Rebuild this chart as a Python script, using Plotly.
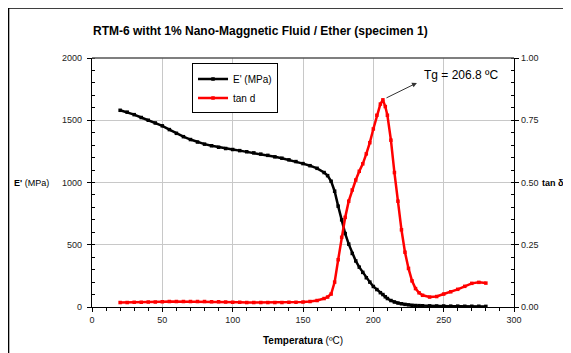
import plotly.graph_objects as go

# ---- data ----
temperature = [20, 25, 30, 35, 40, 45, 50, 55, 60, 65, 70, 75, 80, 85, 90, 95, 100,
               105, 110, 115, 120, 125, 130, 135, 140, 145, 150, 155, 160, 165, 167.5,
               170, 172.5, 175, 177.5, 180, 182.5, 185, 187.5, 190, 192.5, 195, 197.5,
               200, 202.5, 205, 206.8, 208.5, 210, 212.5, 215, 217.5, 220, 222.5, 225,
               227.5, 230, 232.5, 235, 240, 245, 250, 255, 260, 265, 270, 275, 280]

storage_modulus = [1580, 1565, 1545, 1522, 1500, 1478, 1455, 1425, 1395, 1368, 1345,
                   1325, 1308, 1295, 1283, 1273, 1265, 1256, 1247, 1238, 1228, 1218,
                   1206, 1195, 1182, 1168, 1152, 1135, 1114, 1080, 1055,
                   1010, 930, 810, 700, 590, 505, 430, 370, 320, 278, 235, 200,
                   165, 140, 115, 100, 82, 68, 52, 40, 32, 26, 21, 17,
                   14, 12, 11, 10, 9, 8, 8, 7, 7, 6, 6, 6, 5]

tan_delta = [0.018, 0.018, 0.019, 0.019, 0.020, 0.020, 0.021, 0.022, 0.022, 0.022,
             0.022, 0.022, 0.022, 0.021, 0.021, 0.020, 0.019, 0.019, 0.018, 0.018,
             0.018, 0.018, 0.018, 0.018, 0.019, 0.019, 0.020, 0.022, 0.026, 0.034,
             0.040, 0.052, 0.10, 0.19, 0.28, 0.36, 0.425, 0.47, 0.51, 0.545, 0.575,
             0.615, 0.66, 0.715, 0.77, 0.815, 0.832, 0.805, 0.77, 0.67, 0.54, 0.425,
             0.31, 0.22, 0.155, 0.105, 0.074, 0.057, 0.047, 0.040, 0.042, 0.052,
             0.061, 0.071, 0.083, 0.095, 0.099, 0.096]

x_ticks = [0, 50, 100, 150, 200, 250, 300]
y_ticks = [0, 500, 1000, 1500, 2000]
y2_ticks = [0, 0.25, 0.50, 0.75, 1.00]

title_text = "<b>RTM-6 witht 1% Nano-Maggnetic Fluid / Ether (specimen 1)</b>"
tg_text = "Tg = 206.8 ºC"
tg_value = 206.8
tg_peak = 0.832

FONT = "Liberation Sans, Arial, sans-serif"

fig = go.Figure()
fig.add_trace(go.Scatter(
    x=temperature, y=storage_modulus, name="E' (MPa)", mode="lines+markers",
    line=dict(color="black", width=2.5),
    marker=dict(symbol="square", size=3.5, color="black"),
))
fig.add_trace(go.Scatter(
    x=temperature, y=tan_delta, name="tan d", mode="lines+markers", yaxis="y2",
    line=dict(color="#ff0000", width=2.5),
    marker=dict(symbol="square", size=3.5, color="#ff0000"),
))

axis_common = dict(showline=True, linecolor="black", linewidth=1.3, ticks="outside",
                   ticklen=4, tickwidth=1.3, tickcolor="black", zeroline=False,
                   tickfont=dict(family=FONT, size=9, color="#222"))

fig.update_layout(
    width=563, height=345,
    margin=dict(l=84, r=57, t=50, b=46),
    paper_bgcolor="white", plot_bgcolor="white",
    font=dict(family=FONT, size=10, color="black"),
    showlegend=True,
    legend=dict(x=0.237, y=0.978, xanchor="left", yanchor="top",
                bordercolor="black", borderwidth=1, bgcolor="white",
                font=dict(family=FONT, size=10), itemwidth=30),
    xaxis=dict(range=[0, 300], tickvals=x_ticks, showgrid=True,
               gridcolor="#c8c8c8", gridwidth=1,
               minor=dict(dtick=10, ticks="outside", ticklen=3, tickcolor="black",
                          showgrid=False),
               **axis_common),
    yaxis=dict(range=[0, 2000], tickvals=y_ticks, showgrid=True,
               gridcolor="#c8c8c8", gridwidth=1, ticklabelstandoff=3,
               minor=dict(dtick=100, ticks="inside", ticklen=3, tickcolor="black",
                          showgrid=False),
               **axis_common),
    yaxis2=dict(range=[0, 1], tickvals=y2_ticks, tickformat=".2f", overlaying="y",
                side="right", showgrid=False, ticklabelstandoff=0,
                minor=dict(dtick=0.05, ticks="inside", ticklen=3, tickcolor="black"),
                **axis_common),
)

# top frame line of the plot area
fig.add_shape(type="line", xref="paper", yref="paper", x0=0, x1=1, y0=1, y1=1,
              line=dict(color="#555555", width=1.3))
# outer chart border
fig.add_shape(type="rect", xref="paper", yref="paper", x0=-0.1975, x1=1.3,
              y0=-0.5, y1=1.2, line=dict(color="black", width=1.3))

fig.add_annotation(text=title_text, xref="paper", yref="paper", x=0.4, y=1.11,
                   xanchor="center", yanchor="middle", showarrow=False,
                   font=dict(family=FONT, size=12, color="black"))
fig.add_annotation(text="<b>E'</b> (MPa)", xref="paper", yref="paper", x=-0.097,
                   y=0.5, xanchor="right", yanchor="middle", showarrow=False,
                   font=dict(family=FONT, size=9))
fig.add_annotation(text="<b>tan δ</b>", xref="paper", yref="paper", x=1.061,
                   y=0.5, xanchor="left", yanchor="middle", showarrow=False,
                   font=dict(family=FONT, size=9))
fig.add_annotation(text="<b>Temperatura</b> (ºC)", xref="paper", yref="paper",
                   x=0.5, y=-0.105, xanchor="center", yanchor="top",
                   showarrow=False, font=dict(family=FONT, size=10))
# Tg label and arrow
fig.add_annotation(text=tg_text, x=262, y=0.933, xref="x", yref="y2",
                   showarrow=False, font=dict(family=FONT, size=12))
fig.add_annotation(text="", x=231, y=0.9, xref="x", yref="y2",
                   ax=tg_value + 1.5, ay=tg_peak + 0.005, axref="x", ayref="y2",
                   showarrow=True, arrowhead=2, arrowsize=1, arrowwidth=1,
                   arrowcolor="#333")

fig.write_html("out.html")
